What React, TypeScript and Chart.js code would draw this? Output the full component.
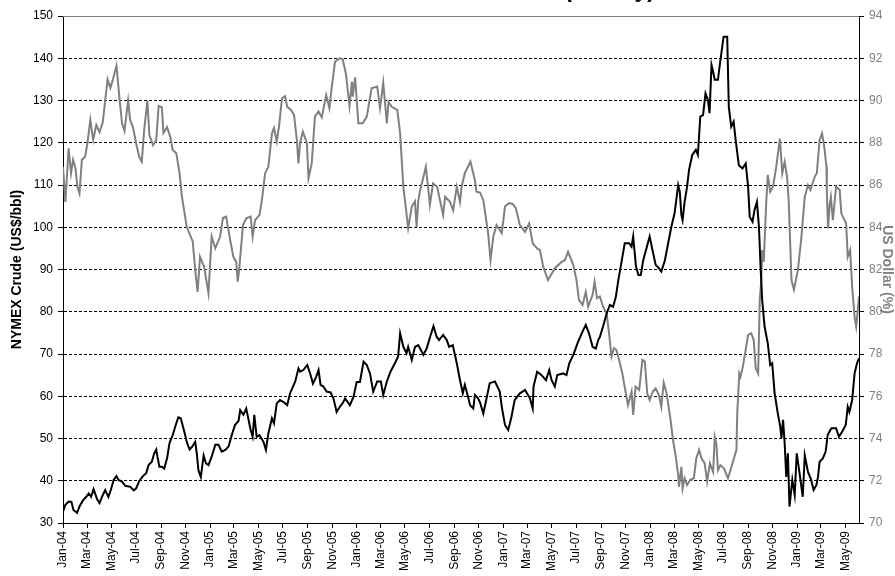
import React, { useEffect, useRef } from "react";
import { Chart, registerables } from "chart.js";

Chart.register(...registerables);

const TITLE = "NYMEX Crude vs US Dollar (weekly)";
const LEFT_TITLE = "NYMEX Crude (US$/bbl)";
const RIGHT_TITLE = "US Dollar (%)";

// x tick labels (every 2 months)
const xTickLabels = [
  "Jan-04", "Mar-04", "May-04", "Jul-04", "Sep-04", "Nov-04",
  "Jan-05", "Mar-05", "May-05", "Jul-05", "Sep-05", "Nov-05",
  "Jan-06", "Mar-06", "May-06", "Jul-06", "Sep-06", "Nov-06",
  "Jan-07", "Mar-07", "May-07", "Jul-07", "Sep-07", "Nov-07",
  "Jan-08", "Mar-08", "May-08", "Jul-08", "Sep-08", "Nov-08",
  "Jan-09", "Mar-09", "May-09",
];

// observation dates, in days since 1 Jan 2004
const crudeDays = [
  0, 6, 14, 21, 26, 35, 41, 50, 58, 64, 70, 76, 85, 91, 97, 105, 113, 119, 126, 133,
  138, 147, 155, 167, 176, 182, 190, 199, 207, 213, 221, 227, 232, 235, 240, 246, 252, 259, 265, 273,
  282, 287, 293, 302, 308, 315, 321, 329, 333, 337, 343, 350, 356, 362, 370, 379, 387, 395, 404, 412,
  420, 428, 437, 441, 449, 456, 461, 467, 472, 476, 482, 489, 499, 505, 511, 520, 525, 532, 540, 548,
  558, 565, 578, 586, 590, 598, 608, 615, 622, 630, 636, 641, 648, 656, 666, 673, 681, 689, 697, 702,
  714, 723, 731, 739, 748, 756, 764, 772, 782, 791, 797, 806, 815, 826, 834, 839, 847, 855, 859, 868,
  876, 884, 897, 905, 915, 922, 930, 936, 946, 955, 961, 970, 980, 988, 995, 1000, 1008, 1013, 1021, 1025,
  1033, 1038, 1046, 1053, 1062, 1075, 1087, 1092, 1100, 1108, 1116, 1124, 1137, 1150, 1162, 1169, 1171, 1180, 1191, 1202,
  1210, 1216, 1224, 1230, 1245, 1253, 1260, 1270, 1282, 1293, 1301, 1309, 1318, 1326, 1332, 1336, 1344, 1353, 1361, 1369,
  1376, 1382, 1390, 1398, 1409, 1415, 1419, 1426, 1432, 1438, 1444, 1452, 1460, 1467, 1475, 1483, 1489, 1498, 1506, 1514,
  1522, 1531, 1535, 1539, 1542, 1547, 1553, 1558, 1566, 1575, 1580, 1586, 1593, 1599, 1605, 1609, 1614, 1618, 1622, 1630,
  1634, 1644, 1653, 1657, 1663, 1669, 1674, 1682, 1691, 1699, 1705, 1709, 1716, 1721, 1727, 1732, 1736, 1740, 1746, 1754,
  1760, 1765, 1771, 1779, 1785, 1788, 1792, 1796, 1800, 1804, 1808, 1815, 1821, 1826, 1833, 1841, 1846, 1854, 1862, 1868,
  1875, 1879, 1883, 1891, 1898, 1903, 1912, 1924, 1931, 1939, 1948, 1953, 1957, 1964, 1970, 1976, 1981,
];

// NYMEX crude, US$/bbl
const crudeValues = [
  32.7, 34.3, 35.1, 35.0, 33.1, 32.4, 33.9, 35.4, 36.2, 37.0, 36.2, 38.0, 35.6, 34.7, 36.2, 37.8, 36.2, 37.8, 40.2, 41.1,
  40.2, 39.8, 38.8, 38.6, 37.7, 38.2, 40.0, 41.1, 41.8, 43.7, 44.5, 46.5, 47.4, 45.7, 43.3, 43.3, 42.9, 45.3, 48.9, 50.8,
  53.6, 55.0, 54.8, 51.6, 49.2, 47.4, 48.0, 49.2, 46.5, 42.5, 40.9, 46.0, 44.1, 43.7, 45.7, 48.5, 48.5, 46.9, 47.3, 48.1,
  50.8, 53.2, 54.2, 56.7, 55.6, 57.1, 54.8, 52.0, 50.4, 55.6, 50.4, 50.8, 49.2, 47.3, 51.2, 54.8, 53.6, 58.3, 59.1, 58.7,
  57.9, 60.7, 63.5, 66.6, 65.8, 66.2, 67.4, 65.4, 63.0, 64.6, 66.2, 62.7, 62.3, 61.1, 60.9, 59.5, 56.3, 57.5, 58.5, 59.5,
  57.9, 59.9, 63.4, 63.4, 68.2, 67.4, 65.4, 61.1, 63.5, 63.5, 60.3, 63.5, 65.8, 67.8, 69.4, 74.9, 71.7, 70.2, 71.7, 68.6,
  71.7, 72.1, 69.8, 71.3, 74.5, 76.6, 74.1, 73.3, 74.5, 73.3, 71.7, 72.1, 67.8, 63.8, 60.7, 62.7, 59.9, 57.9, 57.1, 60.3,
  59.5, 58.5, 55.9, 59.0, 63.1, 63.5, 61.1, 57.5, 53.2, 52.0, 55.1, 59.1, 60.7, 61.5, 59.5, 57.1, 62.3, 65.8, 65.0, 63.8,
  66.2, 63.8, 62.3, 65.0, 65.4, 65.0, 67.8, 69.8, 72.9, 75.3, 76.9, 74.9, 71.7, 71.3, 73.3, 74.0, 76.5, 79.6, 81.6, 81.2,
  83.6, 87.5, 91.8, 96.2, 96.2, 95.4, 97.8, 90.7, 88.7, 88.7, 92.2, 95.0, 97.8, 94.6, 91.1, 90.3, 89.5, 92.2, 96.2, 100.1,
  103.3, 110.0, 108.4, 102.9, 101.7, 106.0, 109.5, 113.6, 117.1, 118.3, 117.1, 126.2, 126.6, 131.7, 130.1, 127.0, 138.4, 136.8, 134.9, 134.9,
  138.0, 145.1, 145.1, 128.5, 123.8, 125.0, 120.7, 114.7, 113.9, 115.1, 109.6, 102.5, 101.3, 104.1, 106.0, 100.1, 90.7, 82.8, 76.5, 72.5,
  67.4, 67.8, 60.7, 55.9, 52.8, 50.0, 54.4, 48.9, 40.9, 46.5, 33.9, 40.2, 36.6, 46.5, 41.8, 36.2, 46.0, 42.1, 40.2, 37.8,
  39.0, 40.9, 44.5, 45.3, 46.9, 50.8, 52.4, 52.4, 50.4, 51.6, 53.2, 57.5, 56.3, 59.1, 65.4, 67.8, 69.0,
];

const dollarDays = [
  0, 6, 14, 20, 25, 31, 36, 41, 47, 55, 61, 68, 75, 83, 91, 99, 105, 111, 118, 124,
  133, 136, 141, 147, 153, 162, 167, 174, 184, 190, 196, 202, 210, 215, 224, 232, 238, 246, 250, 259,
  267, 273, 282, 290, 296, 308, 323, 329, 335, 341, 351, 362, 370, 379, 391, 398, 406, 416, 424, 431,
  435, 439, 448, 456, 467, 472, 478, 489, 495, 499, 503, 511, 520, 525, 532, 538, 545, 553, 558, 567,
  575, 582, 586, 590, 597, 607, 611, 619, 627, 636, 644, 655, 663, 669, 677, 689, 696, 704, 713, 719,
  721, 727, 735, 746, 756, 768, 782, 789, 797, 806, 810, 818, 832, 839, 847, 851, 859, 868, 876, 880,
  884, 888, 903, 908, 913, 921, 931, 946, 951, 963, 971, 980, 988, 992, 1000, 1014, 1025, 1029, 1038, 1046,
  1058, 1064, 1071, 1079, 1092, 1100, 1110, 1119, 1127, 1137, 1150, 1160, 1169, 1180, 1187, 1195, 1207, 1224, 1241, 1249,
  1257, 1270, 1278, 1284, 1293, 1301, 1307, 1318, 1323, 1329, 1336, 1344, 1353, 1359, 1365, 1371, 1377, 1384, 1392, 1400,
  1406, 1415, 1419, 1425, 1434, 1442, 1448, 1454, 1460, 1468, 1475, 1483, 1489, 1495, 1502, 1506, 1512, 1518, 1525, 1531,
  1533, 1539, 1542, 1547, 1553, 1561, 1570, 1576, 1583, 1589, 1597, 1603, 1610, 1618, 1622, 1626, 1630, 1636, 1645, 1655,
  1666, 1676, 1678, 1683, 1686, 1692, 1705, 1713, 1719, 1724, 1730, 1734, 1738, 1740, 1744, 1750, 1754, 1760, 1767, 1775,
  1784, 1790, 1796, 1802, 1806, 1813, 1819, 1829, 1837, 1846, 1854, 1860, 1871, 1876, 1883, 1889, 1895, 1900, 1901, 1904,
  1908, 1911, 1916, 1924, 1933, 1937, 1949, 1953, 1959, 1964, 1970, 1974, 1978, 1981,
];

// US dollar index
const dollarValues = [
  86.86, 85.2, 87.74, 86.56, 87.2, 86.8, 85.9, 85.6, 87.2, 87.34, 88.0, 89.08, 88.14, 88.84, 88.5, 88.98, 90.0, 91.0, 90.6, 90.98,
  91.64, 91.06, 90.0, 88.92, 88.56, 90.0, 89.08, 88.74, 87.8, 87.32, 87.1, 88.6, 90.0, 88.36, 87.88, 88.12, 89.74, 89.68, 88.46, 88.74,
  88.28, 87.66, 87.5, 86.56, 85.44, 84.02, 83.32, 81.98, 80.94, 82.6, 82.14, 80.88, 83.56, 83.0, 83.56, 84.44, 84.5, 83.4, 82.6, 82.36,
  81.42, 82.14, 84.1, 84.42, 84.5, 83.56, 84.34, 84.58, 85.28, 85.92, 86.56, 86.86, 88.44, 88.7, 88.06, 88.84, 90.1, 90.2, 89.7, 89.56,
  89.32, 88.14, 87.02, 88.0, 88.52, 87.98, 86.32, 87.02, 89.24, 89.48, 89.2, 90.26, 89.64, 90.66, 91.84, 92.0, 91.96, 91.28, 89.74, 90.9,
  90.18, 91.1, 88.92, 88.92, 89.24, 90.58, 90.66, 89.64, 90.84, 88.92, 89.94, 89.7, 89.56, 88.44, 85.92, 85.28, 83.96, 84.98, 85.22, 84.02,
  85.2, 85.68, 86.86, 86.0, 85.06, 86.08, 85.92, 84.58, 85.44, 85.2, 84.8, 85.92, 85.2, 85.92, 86.56, 87.1, 86.24, 85.68, 85.64, 85.28,
  83.72, 82.46, 83.56, 84.1, 83.72, 84.98, 85.14, 85.1, 84.9, 84.1, 83.78, 84.18, 83.24, 83.0, 82.92, 82.14, 81.5, 82.06, 82.36, 82.44,
  82.84, 82.22, 81.5, 80.56, 80.32, 80.94, 80.24, 80.8, 81.42, 80.64, 80.72, 80.24, 79.92, 78.98, 77.88, 78.28, 78.2, 77.72, 77.08, 76.22,
  75.58, 76.22, 75.12, 76.46, 76.3, 77.72, 77.64, 76.14, 75.82, 76.22, 76.38, 76.06, 75.5, 76.64, 76.14, 75.66, 74.88, 73.94, 73.14, 72.28,
  71.72, 72.66, 71.64, 72.12, 71.8, 72.04, 72.12, 73.06, 73.46, 73.06, 72.82, 71.96, 72.82, 72.42, 74.08, 73.76, 72.5, 72.74, 72.58, 72.12,
  72.82, 73.46, 75.2, 77.08, 76.92, 77.4, 78.9, 78.98, 78.66, 77.32, 77.08, 80.56, 81.5, 82.92, 82.36, 85.14, 86.48, 85.68, 85.92, 86.86,
  88.2, 86.56, 87.1, 86.38, 85.28, 81.5, 81.04, 81.98, 83.4, 85.44, 86.0, 85.76, 86.4, 86.56, 88.14, 88.44, 87.74, 86.86, 85.62, 83.96,
  85.06, 85.44, 84.34, 85.92, 85.76, 84.66, 84.18, 82.6, 82.92, 81.18, 79.76, 79.3, 80.08, 80.72,
];

const MONTHS = ["Jan", "Feb", "Mar", "Apr", "May", "Jun", "Jul", "Aug", "Sep", "Oct", "Nov", "Dec"];
const DAY_MS = 86400000;
const BASE = Date.UTC(2004, 0, 1);

function labelToDay(label: string): number {
  const [m, yy] = label.split("-");
  const d = Date.UTC(2000 + parseInt(yy, 10), MONTHS.indexOf(m), 1);
  return Math.round((d - BASE) / DAY_MS);
}

const FONT = '"Liberation Sans", Arial, sans-serif';

export default function App() {
  const ref = useRef<HTMLCanvasElement | null>(null);

  useEffect(() => {
    if (!ref.current) return;
    Chart.defaults.font.family = FONT;
    const tickDays = xTickLabels.map(labelToDay);
    const labelMap = new Map<number, string>();
    tickDays.forEach((d, i) => labelMap.set(d, xTickLabels[i]));

    const decor = {
      id: "decor",
      beforeDatasetsDraw(chart: any) {
        const { ctx, chartArea } = chart;
        ctx.save();
        ctx.strokeStyle = "#808080";
        ctx.lineWidth = 1;
        ctx.beginPath();
        ctx.moveTo(chartArea.left, chartArea.top + 0.5);
        ctx.lineTo(chartArea.right, chartArea.top + 0.5);
        ctx.stroke();
        ctx.restore();
      },
      afterDraw(chart: any) {
        const { ctx } = chart;
        ctx.save();
        ctx.font = `bold 23px ${FONT}`;
        ctx.fillStyle = "#000";
        ctx.textAlign = "right";
        ctx.textBaseline = "alphabetic";
        ctx.fillText(TITLE, 655, -3);
        ctx.restore();
      },
    };

    const chart = new Chart(ref.current, {
      type: "line",
      data: {
        datasets: [
          {
            label: "NYMEX Crude",
            data: crudeDays.map((d, i) => ({ x: d, y: crudeValues[i] })),
            yAxisID: "y",
            borderColor: "#000000",
            borderWidth: 2,
            pointRadius: 0,
            tension: 0,
            fill: false,
          },
          {
            label: "US Dollar",
            data: dollarDays.map((d, i) => ({ x: d, y: dollarValues[i] })),
            yAxisID: "y1",
            borderColor: "#808080",
            borderWidth: 2,
            pointRadius: 0,
            tension: 0,
            fill: false,
          },
        ],
      },
      options: {
        animation: false,
        responsive: false,
        events: [],
        layout: { padding: { top: 16, left: 0, right: 0, bottom: 0 } },
        plugins: {
          legend: { display: false },
          tooltip: { enabled: false },
          title: { display: false },
        },
        scales: {
          x: {
            type: "linear",
            min: 0,
            max: 1981,
            afterBuildTicks: (s: any) => {
              s.ticks = tickDays.map((v) => ({ value: v }));
            },
            afterFit: (s: any) => {
              s.height = 53;
            },
            ticks: {
              autoSkip: false,
              minRotation: 90,
              maxRotation: 90,
              padding: 3,
              color: "#000",
              font: { family: FONT, size: 12 },
              callback: (v: any) => labelMap.get(v) ?? "",
            },
            grid: {
              drawOnChartArea: false,
              drawTicks: true,
              tickLength: 5,
              tickColor: "#000",
              color: "#000",
            },
            border: { display: true, color: "#000", width: 1 },
          },
          y: {
            position: "left",
            min: 30,
            max: 150,
            afterFit: (s: any) => {
              s.width = 63;
            },
            ticks: { stepSize: 10, color: "#000", padding: 5, font: { family: FONT, size: 12 } },
            grid: {
              color: (c: any) => (c.tick && c.tick.value === 150 ? "rgba(0,0,0,0)" : "#000"),
              tickColor: "#000",
              tickLength: 5,
              lineWidth: 1,
            },
            border: { display: true, color: "#000", width: 1, dash: [3, 2] },
            title: {
              display: true,
              text: LEFT_TITLE,
              color: "#000",
              font: { family: FONT, size: 14, weight: "bold" },
              padding: { top: 9, bottom: 0 },
            },
          },
          y1: {
            position: "right",
            min: 70,
            max: 94,
            afterFit: (s: any) => {
              s.width = 36;
            },
            ticks: { stepSize: 2, color: "#808080", padding: 5, font: { family: FONT, size: 12 } },
            grid: { drawOnChartArea: false, tickColor: "#000", tickLength: 5 },
            border: { display: true, color: "#000", width: 1 },
            title: {
              display: true,
              text: RIGHT_TITLE,
              color: "#808080",
              font: { family: FONT, size: 14, weight: "bold" },
              padding: { top: 0, bottom: 0 },
            },
          },
        },
      },
      plugins: [decor],
    } as any);

    return () => chart.destroy();
  }, []);

  return (
    <div style={{ position: "absolute", left: 0, top: 0, width: 895, height: 576, background: "#fff" }}>
      <canvas ref={ref} width={895} height={576} style={{ display: "block" }} />
    </div>
  );
}
